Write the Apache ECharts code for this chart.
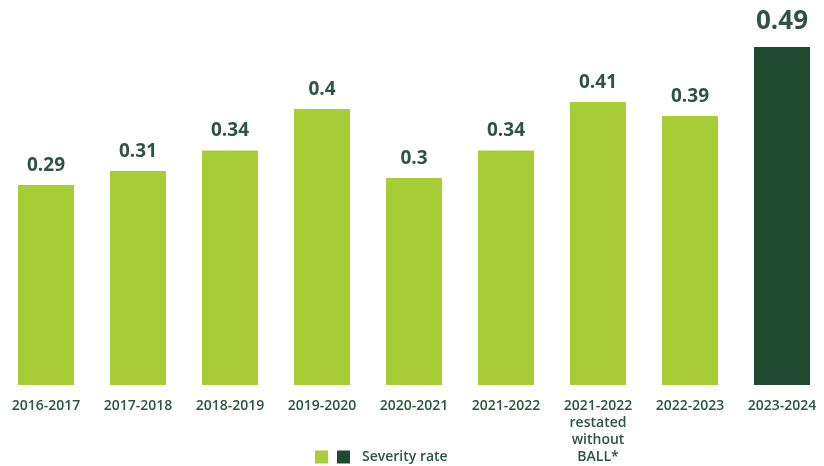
<!DOCTYPE html>
<html>
<head>
<meta charset="utf-8">
<script src="https://cdn.jsdelivr.net/npm/echarts@6/dist/echarts.min.js"></script>
<style>html,body{margin:0;padding:0;background:#fff;}#c{width:824px;height:466px;}</style>
</head>
<body>
<div id="c"></div>
<script>
const categories = ['2016-2017','2017-2018','2018-2019','2019-2020','2020-2021','2021-2022','2021-2022\nrestated\nwithout\nBALL*','2022-2023','2023-2024'];
const values = [0.29, 0.31, 0.34, 0.4, 0.3, 0.34, 0.41, 0.39, 0.49];
const highlightIndex = 8;
const seriesName = 'Severity rate';

const LIGHT = '#a9cd37';
const DARK = '#1f4a30';
const TEXT = '#2f5443';
const FONT = '"Open Sans", Lato, sans-serif';

const lightData = values.map((v, i) => i === highlightIndex ? '-' : v);
const darkData = values.map((v, i) => i === highlightIndex ? v : '-');

const chart = echarts.init(document.getElementById('c'));
chart.setOption({
  animation: false,
  grid: { left: 0, right: -4, top: 40, bottom: 81, outerBoundsMode: 'none' },
  legend: {
    data: ['light', seriesName],
    left: 310, top: 445,
    itemWidth: 13, itemHeight: 13, itemGap: 9,
    icon: 'rect',
    formatter: n => n === seriesName ? n : '',
    textStyle: { color: TEXT, fontFamily: FONT, fontWeight: 600, fontSize: 14, padding: [0, 0, 0, 7] }
  },
  xAxis: {
    type: 'category', data: categories,
    axisLine: { show: false }, axisTick: { show: false },
    axisLabel: { color: TEXT, fontFamily: FONT, fontWeight: 600, fontSize: 14, lineHeight: 17, margin: 13, interval: 0 }
  },
  yAxis: { type: 'value', min: 0, max: 0.5, show: false, splitLine: { show: false } },
  series: [
    {
      name: 'light', type: 'bar', stack: 's', data: lightData, barWidth: 56,
      itemStyle: { color: LIGHT },
      label: { show: true, position: 'top', distance: 10, color: TEXT, fontFamily: FONT, fontWeight: 700, fontSize: 19 }
    },
    {
      name: seriesName, type: 'bar', stack: 's', data: darkData, barWidth: 56,
      itemStyle: { color: DARK },
      label: { show: true, position: 'top', distance: 12, color: TEXT, fontFamily: FONT, fontWeight: 700, fontSize: 26 }
    }
  ]
});
</script>
</body>
</html>
